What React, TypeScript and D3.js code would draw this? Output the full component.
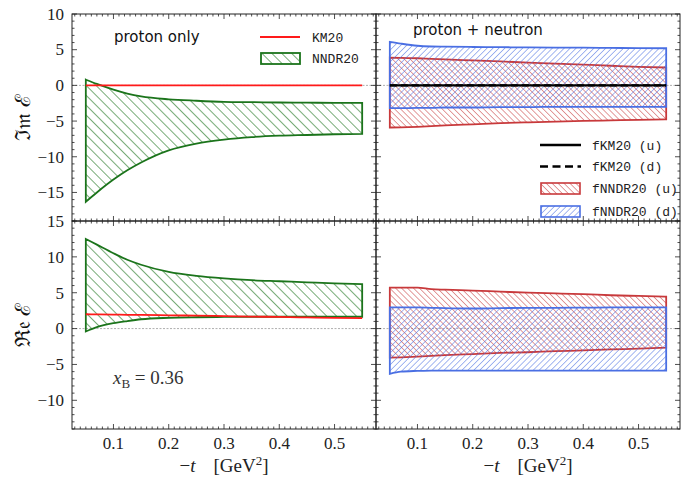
import * as d3 from "d3";

// -t values where the bands were read
const tGrid = [0.05, 0.07, 0.1, 0.125, 0.15, 0.2, 0.25, 0.3, 0.35, 0.4, 0.45, 0.5, 0.55];

// proton only, imaginary part
const imKM20 = [0, 0, 0, 0, 0, 0, 0, 0, 0, 0, 0, 0, 0];
const imNNDRUp = [0.8, 0.2, -0.6, -1.15, -1.55, -1.95, -2.15, -2.3, -2.35, -2.4, -2.42, -2.45, -2.45];
const imNNDRLo = [-16.3, -15.0, -13.2, -11.9, -10.8, -9.1, -8.15, -7.6, -7.25, -7.05, -6.95, -6.85, -6.8];

// proton only, real part
const reKM20 = [2.0, 1.98, 1.95, 1.92, 1.9, 1.85, 1.8, 1.74, 1.68, 1.62, 1.56, 1.5, 1.45];
const reNNDRUp = [12.5, 11.7, 10.5, 9.6, 8.9, 7.9, 7.35, 7.0, 6.75, 6.6, 6.45, 6.3, 6.2];
const reNNDRLo = [-0.4, 0.2, 0.75, 1.05, 1.3, 1.5, 1.58, 1.62, 1.65, 1.65, 1.65, 1.65, 1.65];

// proton + neutron, imaginary part
const imUUp = [3.9, 3.85, 3.8, 3.72, 3.65, 3.5, 3.35, 3.2, 3.05, 2.9, 2.75, 2.6, 2.5];
const imULo = [-5.9, -5.88, -5.8, -5.7, -5.6, -5.45, -5.3, -5.18, -5.07, -4.98, -4.9, -4.82, -4.75];
const imDUp = [6.1, 5.85, 5.55, 5.45, 5.42, 5.38, 5.35, 5.32, 5.3, 5.28, 5.25, 5.22, 5.2];
const imDLo = [-3.2, -3.2, -3.15, -3.15, -3.1, -3.1, -3.05, -3.05, -3.0, -3.0, -3.0, -3.0, -3.0];

// proton + neutron, real part
const reUUp = [5.7, 5.72, 5.7, 5.5, 5.42, 5.3, 5.15, 5.0, 4.9, 4.8, 4.65, 4.55, 4.45];
const reULo = [-4.05, -4.0, -3.9, -3.8, -3.7, -3.55, -3.4, -3.3, -3.15, -3.05, -2.9, -2.8, -2.65];
const reDUp = [2.95, 2.95, 2.95, 2.9, 2.85, 2.8, 2.85, 2.9, 2.9, 2.92, 2.95, 2.95, 2.95];
const reDLo = [-6.3, -6.0, -5.9, -5.85, -5.85, -5.85, -5.85, -5.85, -5.85, -5.85, -5.85, -5.85, -5.85];

const xTicks = [0.1, 0.2, 0.3, 0.4, 0.5];

const W = 682;
const H = 478;
const left = 72, mid = 376, right = 680;
const top = 14, midY = 221, bottom = 429;

const GREEN = "#1b741b";
const RED = "#c8393b";
const BLUE = "#4a6fe3";
const KMRED = "#ff1a1a";
const serif = '"Liberation Serif", "Times New Roman", "DejaVu Serif", serif';
const sans = '"DejaVu Sans", sans-serif';
const mono = '"Liberation Mono", "Courier New", monospace';

const fmt = (v: number) => (v < 0 ? "\u2212" + Math.abs(v) : String(v));

type Band = { up: number[]; lo: number[]; color: string; pat: string };

function Panel({ x, y, bands, lines, yTicks, showY, showX }: any) {
  const [x0, x1] = x.range();
  const [y1, y0] = y.range();
  const yMinor = d3.range(Math.ceil(y.domain()[0]), Math.floor(y.domain()[1]) + 1);
  const xMinor = d3.range(3, 58).map((d) => d / 100);
  const lineGen = (vals: number[]) =>
    d3
      .line<number>()
      .x((_, i) => x(tGrid[i]))
      .y((v) => y(v))
      .curve(d3.curveMonotoneX)(vals) || "";
  const bandPath = (b: Band) =>
    d3
      .area<number>()
      .x((_, i) => x(tGrid[i]))
      .y0((_, i) => y(b.lo[i]))
      .y1((_, i) => y(b.up[i]))
      .curve(d3.curveMonotoneX)(b.up) || "";
  return (
    <g>
      <line x1={x0} x2={x1} y1={y(0)} y2={y(0)} stroke="#999" strokeWidth={0.8} strokeDasharray="2,1.5" />
      {bands.map((b: Band, i: number) => (
        <path key={i} d={bandPath(b)} fill={`url(#${b.pat})`} stroke={b.color} strokeWidth={1.8} />
      ))}
      {lines.map((l: any, i: number) => (
        <path key={"l" + i} d={lineGen(l.vals)} fill="none" stroke={l.color} strokeWidth={l.w} strokeDasharray={l.dash || null} />
      ))}
      <rect x={x0} y={y0} width={x1 - x0} height={y1 - y0} fill="none" stroke="#222" strokeWidth={1} />
      {yMinor.map((v) => {
        const len = v % 5 === 0 ? 5 : 2.5;
        return (
          <g key={"y" + v} stroke="#222" strokeWidth={0.8}>
            <line x1={x0} x2={x0 + len} y1={y(v)} y2={y(v)} />
            <line x1={x1} x2={x1 - len} y1={y(v)} y2={y(v)} />
          </g>
        );
      })}
      {xMinor.map((v) => {
        const major = Math.abs(v * 10 - Math.round(v * 10)) < 1e-6;
        const len = major ? 5 : 2.5;
        return (
          <g key={"x" + v} stroke="#222" strokeWidth={0.8}>
            <line x1={x(v)} x2={x(v)} y1={y1} y2={y1 - len} />
            <line x1={x(v)} x2={x(v)} y1={y0} y2={y0 + len} />
          </g>
        );
      })}
      {showY &&
        yTicks.map((v: number) => (
          <text key={"yl" + v} x={x0 - 8} y={y(v)} dy="0.34em" textAnchor="end" style={{ fontFamily: serif }} fontSize={17} fill="#222">
            {fmt(v)}
          </text>
        ))}
      {showX &&
        xTicks.map((v) => (
          <text key={"xl" + v} x={x(v)} y={y1 + 20} textAnchor="middle" style={{ fontFamily: serif }} fontSize={17} fill="#222">
            {String(v)}
          </text>
        ))}
    </g>
  );
}

export default function App() {
  const xL = d3.scaleLinear([0.025, 0.575], [left, mid]);
  const xR = d3.scaleLinear([0.025, 0.575], [mid, right]);
  const yTop = d3.scaleLinear([-19, 10], [midY, top]);
  const yBot = d3.scaleLinear([-14, 15], [bottom, midY]);

  const green: Band = { up: imNNDRUp, lo: imNNDRLo, color: GREEN, pat: "hG" };
  const greenRe: Band = { up: reNNDRUp, lo: reNNDRLo, color: GREEN, pat: "hG" };

  return (
    <svg width={W} height={H} style={{ position: "absolute", left: 0, top: 0, background: "#fff" }}>
      <defs>
        <pattern id="hG" width={7} height={7} patternUnits="userSpaceOnUse" patternTransform="rotate(-45)">
          <line x1={0} y1={-1} x2={0} y2={8} stroke={GREEN} strokeWidth={1.2} />
        </pattern>
        <pattern id="hR" width={4.2} height={4.2} patternUnits="userSpaceOnUse" patternTransform="rotate(-45)">
          <line x1={0} y1={-1} x2={0} y2={6} stroke={RED} strokeWidth={1} />
        </pattern>
        <pattern id="hB" width={4.2} height={4.2} patternUnits="userSpaceOnUse" patternTransform="rotate(45)">
          <line x1={0} y1={-1} x2={0} y2={6} stroke={BLUE} strokeWidth={1} />
        </pattern>
      </defs>

      <Panel x={xL} y={yTop} bands={[green]} lines={[{ vals: imKM20, color: KMRED, w: 1.8 }]} yTicks={[-15, -10, -5, 0, 5, 10]} showY />
      <Panel
        x={xR}
        y={yTop}
        bands={[
          { up: imUUp, lo: imULo, color: RED, pat: "hR" },
          { up: imDUp, lo: imDLo, color: BLUE, pat: "hB" },
        ]}
        lines={[
          { vals: imKM20, color: "#000", w: 2.4 },
          { vals: imKM20, color: "#000", w: 2.4, dash: "7,4" },
        ]}
        yTicks={[]}
      />
      <Panel x={xL} y={yBot} bands={[greenRe]} lines={[{ vals: reKM20, color: KMRED, w: 1.8 }]} yTicks={[-10, -5, 0, 5, 10, 15]} showY showX />
      <Panel
        x={xR}
        y={yBot}
        bands={[
          { up: reUUp, lo: reULo, color: RED, pat: "hR" },
          { up: reDUp, lo: reDLo, color: BLUE, pat: "hB" },
        ]}
        lines={[]}
        yTicks={[]}
        showX
      />

      {/* panel captions */}
      <text x={114} y={42} style={{ fontFamily: sans }} fontSize={15} fill="#111">proton only</text>
      <text x={413} y={35} style={{ fontFamily: sans }} fontSize={15} fill="#111">proton + neutron</text>
      <text x={113} y={384} style={{ fontFamily: serif }} fontSize={19} fill="#333">
        <tspan fontStyle="italic">x</tspan>
        <tspan fontSize={13} dy={4}>B</tspan>
        <tspan dy={-4}> = 0.36</tspan>
      </text>

      {/* left legend */}
      <line x1={260} x2={300} y1={37} y2={37} stroke={KMRED} strokeWidth={1.8} />
      <text x={312} y={37} dy="0.35em" style={{ fontFamily: mono }} fontSize={13} fill="#222">KM20</text>
      <rect x={261} y={53} width={39} height={11} fill="url(#hG)" stroke={GREEN} strokeWidth={1.8} />
      <text x={312} y={58.5} dy="0.35em" style={{ fontFamily: mono }} fontSize={13} fill="#222">NNDR20</text>

      {/* right legend */}
      <line x1={540} x2={581} y1={145} y2={145} stroke="#000" strokeWidth={2.4} />
      <text x={592} y={145} dy="0.35em" style={{ fontFamily: mono }} fontSize={13} fill="#222">fKM20 (u)</text>
      <line x1={540} x2={581} y1={166.5} y2={166.5} stroke="#000" strokeWidth={2.4} strokeDasharray="8,4.5" />
      <text x={592} y={166.5} dy="0.35em" style={{ fontFamily: mono }} fontSize={13} fill="#222">fKM20 (d)</text>
      <rect x={541} y={183} width={39} height={11} fill="url(#hR)" stroke={RED} strokeWidth={1.6} />
      <text x={592} y={188.5} dy="0.35em" style={{ fontFamily: mono }} fontSize={13} fill="#222">fNNDR20 (u)</text>
      <rect x={541} y={206} width={39} height={11} fill="url(#hB)" stroke={BLUE} strokeWidth={1.6} />
      <text x={592} y={211.5} dy="0.35em" style={{ fontFamily: mono }} fontSize={13} fill="#222">fNNDR20 (d)</text>

      {/* axis titles */}
      <text transform={`translate(30,${(top + midY) / 2}) rotate(-90)`} textAnchor="middle" style={{ fontFamily: serif }} fontSize={21} fill="#111">
        ℑ𝔪 ℰ
      </text>
      <text transform={`translate(30,${(midY + bottom) / 2}) rotate(-90)`} textAnchor="middle" style={{ fontFamily: serif }} fontSize={21} fill="#111">
        ℜ𝔢 ℰ
      </text>
      {[xL, xR].map((x, i) => (
        <text key={i} x={(x.range()[0] + x.range()[1]) / 2} y={472} textAnchor="middle" style={{ fontFamily: serif }} fontSize={19} fill="#222">
          {"\u2212"}
          <tspan fontStyle="italic">t</tspan>
          <tspan dx={18}>[GeV</tspan>
          <tspan fontSize={13} dy={-7}>2</tspan>
          <tspan dy={7}>]</tspan>
        </text>
      ))}
    </svg>
  );
}
